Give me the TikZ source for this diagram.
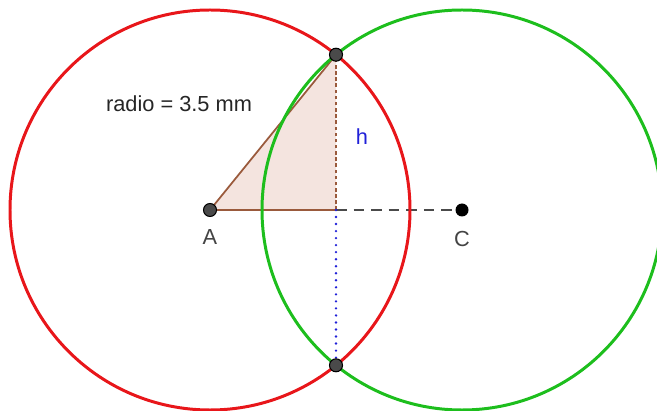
\documentclass[tikz,border=0pt]{standalone}
\usepackage{fontspec}
\setmainfont{Liberation Sans}
\usepackage{xcolor}
\usetikzlibrary{calc}
\definecolor{GG_RED}{HTML}{E8161A}
\definecolor{GG_GREEN}{HTML}{1DBE1D}
\definecolor{GG_BROWN}{HTML}{9A5A3C}
\definecolor{GG_FILL}{HTML}{F4E4DF}
\definecolor{GG_BLUE}{HTML}{2020D8}
\definecolor{GG_DOT}{HTML}{4A4A4A}
\definecolor{GG_TEXT}{HTML}{444444}
\tikzset{
  circ/.style={line width=1.7pt},
  pt/.style={circle, inner sep=0pt, minimum size=0.26cm,
    draw=black, line width=0.6pt, fill=GG_DOT},
  ptc/.style={circle, inner sep=0pt, minimum size=0.26cm, fill=black},
  lbl/.style={font=\fontsize{12.4}{14}\selectfont, text=GG_TEXT},
}

\begin{document}
\begin{tikzpicture}
  \useasboundingbox (0,0) rectangle (13.14,8.2);
  \clip (0,0) rectangle (13.14,8.2);

  % centres and intersection points
  \coordinate (a) at (4.2,4.0);
  \coordinate (c) at (9.24,4.0);
  \coordinate (f) at (6.72,4.0);
  \coordinate (p) at (6.72,7.106);
  \coordinate (q) at (6.72,0.894);

  % triangle
  \fill[GG_FILL] (a) -- (f) -- (p) -- cycle;
  \draw[GG_BROWN, line width=1pt] (f) -- (a) -- (p);
  \draw[GG_BROWN, line width=1pt, dash pattern=on 2pt off 1.5pt] (f) -- (p);

  % segments
  \draw[GG_DOT, line width=1pt, dash pattern=on 6pt off 4pt] (f) -- (c);
  \draw[GG_BLUE, line width=1.5pt, line cap=round, dash pattern=on 0pt off 4pt] (f) -- (q);

  % circles
  \draw[circ, GG_RED] (a) circle (4.0);
  \draw[circ, GG_GREEN] (c) circle (4.0);

  % points
  \node[pt] (A) at (a) {};
  \node[pt] (P) at (p) {};
  \node[pt] (Q) at (q) {};
  \node[ptc] (C) at (c) {};

  % labels
  \node[lbl, below=0.12cm] at (A.south) {A};
  \node[lbl, below=0.16cm] at (C.south) {C};
  \node[lbl, text=GG_BLUE] (hlab) at (7.24,5.46) {h};
  \node[lbl, text=black!85] (rlab) at (3.58,6.12) {radio = 3.5 mm};
\end{tikzpicture}
\end{document}
